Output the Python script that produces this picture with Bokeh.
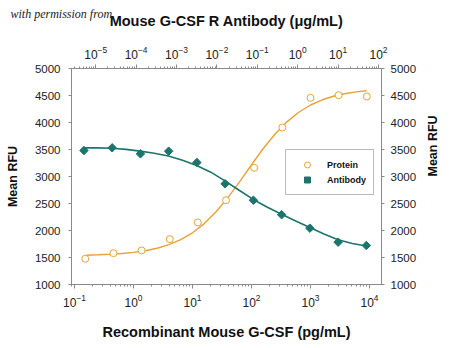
import math
from bokeh.plotting import figure
from bokeh.models import (Range1d, LogScale, LogAxis, LinearAxis, FixedTicker,
                          Legend, LegendItem, Title)
from bokeh.embed import file_html
from bokeh.resources import INLINE

# ---- data ----
protein_conc = [0.152, 0.457, 1.37, 4.12, 12.3, 37, 111, 333, 1000, 3000, 9000]
protein_rfu = [1476, 1580, 1630, 1840, 2150, 2560, 3161, 3907, 4457, 4506, 4481]

antibody_conc = [5.12e-6, 2.56e-5, 1.28e-4, 6.4e-4, 3.2e-3, 0.016, 0.08, 0.4, 2, 10, 50]
antibody_rfu = [3481, 3531, 3420, 3469, 3259, 2865, 2560, 2293, 2043, 1784, 1722]

# fitted curves
protein_fit_conc = [0.158, 0.251, 0.398, 0.631, 1, 1.58, 2.51, 3.98, 6.31, 10, 15.8, 25.1,
                    39.8, 63.1, 100, 158, 251, 398, 631, 1000, 1585, 2512, 3981, 6310, 8913]
protein_fit_rfu = [1543, 1550, 1560, 1574, 1595, 1626, 1672, 1737, 1830, 1957, 2128, 2346,
                   2609, 2906, 3218, 3518, 3787, 4012, 4190, 4324, 4421, 4490, 4538, 4571, 4589]

antibody_fit_conc = [5.01e-6, 1.12e-5, 2.51e-5, 5.62e-5, 1.26e-4, 2.82e-4, 6.31e-4, 1.41e-3,
                     3.16e-3, 7.08e-3, 0.0158, 0.0355, 0.0794, 0.178, 0.398, 0.891, 2.0,
                     4.47, 10, 22.4, 50.1]
antibody_fit_rfu = [3530, 3530, 3522, 3502, 3470, 3430, 3380, 3300, 3205, 3080, 2920, 2745,
                    2575, 2430, 2300, 2175, 2055, 1935, 1830, 1760, 1712]

bottom_ticks = [0.1, 1, 10, 100, 1000, 10000]
top_ticks = [1e-5, 1e-4, 1e-3, 1e-2, 1e-1, 1, 10, 100]
y_ticks = [1000, 1500, 2000, 2500, 3000, 3500, 4000, 4500, 5000]

# ---- styles ----
ORANGE = "#E8A23A"
TEAL = "#1B756C"
AXIS_GRAY = "#8a8a8a"
FONT = "Liberation Sans"

bottom_min = [m * 10 ** k for k in range(-2, 5) for m in range(2, 10)]
bottom_min = [t for t in bottom_min if 0.0889 <= t <= 15960]
top_min = [m * 10 ** k for k in range(-6, 3) for m in range(2, 10)]
top_min = [t for t in top_min if 2.52e-6 <= t <= 118.6]

p = figure(width=450, height=348, x_axis_type="log",
           x_range=Range1d(0.0889, 15960), y_range=Range1d(1000, 5000),
           output_backend="svg", toolbar_location=None,
           min_border_left=71, min_border_right=69, min_border_top=68,
           min_border_bottom=64)
p.extra_x_ranges = {"top": Range1d(2.52e-6, 118.6)}
p.extra_x_scales = {"top": LogScale()}

p.grid.visible = False
p.outline_line_color = AXIS_GRAY
p.background_fill_color = "white"
p.border_fill_color = "white"


def style_axis(ax, label_size="11.5px"):
    ax.axis_line_color = AXIS_GRAY
    ax.major_tick_line_color = AXIS_GRAY
    ax.minor_tick_line_color = AXIS_GRAY
    ax.major_tick_in = 0
    ax.major_tick_out = 4
    ax.minor_tick_in = 0
    ax.minor_tick_out = 2
    ax.major_label_text_font = FONT
    ax.major_label_text_font_size = label_size
    ax.major_label_text_color = "#222222"
    ax.axis_label_text_font = FONT
    ax.axis_label_text_font_style = "bold"
    ax.axis_label_text_color = "#111111"


# bottom axis
xb = p.xaxis[0]
xb.ticker = FixedTicker(ticks=bottom_ticks, minor_ticks=bottom_min)
style_axis(xb, "12px")
xb.axis_label = "Recombinant Mouse G-CSF (pg/mL)"
xb.axis_label_text_font_size = "14.5px"
xb.major_label_standoff = 5
xb.axis_label_standoff = 14

# top axis
xt = LogAxis(x_range_name="top", ticker=FixedTicker(ticks=top_ticks, minor_ticks=top_min))
style_axis(xt, "12px")
xt.axis_label = "Mouse G-CSF R Antibody (\u03bcg/mL)"
xt.axis_label_text_font_size = "14.5px"
xt.major_label_standoff = 6
xt.axis_label_standoff = 14
p.add_layout(xt, "above")

# left axis
yl = p.yaxis[0]
yl.ticker = FixedTicker(ticks=y_ticks)
style_axis(yl)
yl.minor_tick_line_color = None
yl.major_tick_out = 3
yl.axis_label = "Mean RFU"
yl.axis_label_text_font_size = "12.5px"
yl.major_label_standoff = 8
yl.axis_label_standoff = 12

# right axis
yr = LinearAxis(ticker=FixedTicker(ticks=y_ticks))
style_axis(yr)
yr.minor_tick_line_color = None
yr.major_tick_out = 3
yr.axis_label = "Mean RFU"
yr.axis_label_text_font_size = "12.5px"
yr.major_label_standoff = 6
yr.axis_label_standoff = 14
try:
    yr.axis_label_orientation = math.pi / 2
except Exception:
    pass
p.add_layout(yr, "right")

# curves
p.line(protein_fit_conc, protein_fit_rfu, line_color=ORANGE, line_width=1.4)
p.line(antibody_fit_conc, antibody_fit_rfu, line_color=TEAL, line_width=1.6,
       x_range_name="top")

# points
r_prot = p.scatter(protein_conc, protein_rfu, marker="circle", size=7,
                   fill_color="white", line_color=ORANGE, line_width=1)
r_ab = p.scatter(antibody_conc, antibody_rfu, marker="square", size=6, angle=math.pi / 4,
                 fill_color=TEAL, line_color=TEAL, line_width=1, x_range_name="top")

legend = Legend(items=[LegendItem(label="Protein", renderers=[r_prot]),
                       LegendItem(label="Antibody", renderers=[r_ab])],
                location=(214, 89))
legend.border_line_color = "#777777"
legend.border_line_width = 1
legend.background_fill_color = "white"
legend.background_fill_alpha = 1
legend.padding = 7
legend.spacing = 0
legend.margin = 0
legend.glyph_width = 28
legend.glyph_height = 15
legend.label_height = 15
legend.label_standoff = 6
legend.label_text_font = FONT
legend.label_text_font_style = "bold"
legend.label_text_font_size = "9px"
legend.label_text_color = "#111111"
p.add_layout(legend, "center")

# watermark text at the top-left corner
wm = Title(text="with permission from", align="left", offset=-61,
           text_font="Liberation Serif", text_font_style="italic",
           text_font_size="12px", text_color="#222222")
try:
    wm.standoff = -22
except Exception:
    pass
p.add_layout(wm, "above")

open("out.html", "w").write(file_html(p, INLINE))
